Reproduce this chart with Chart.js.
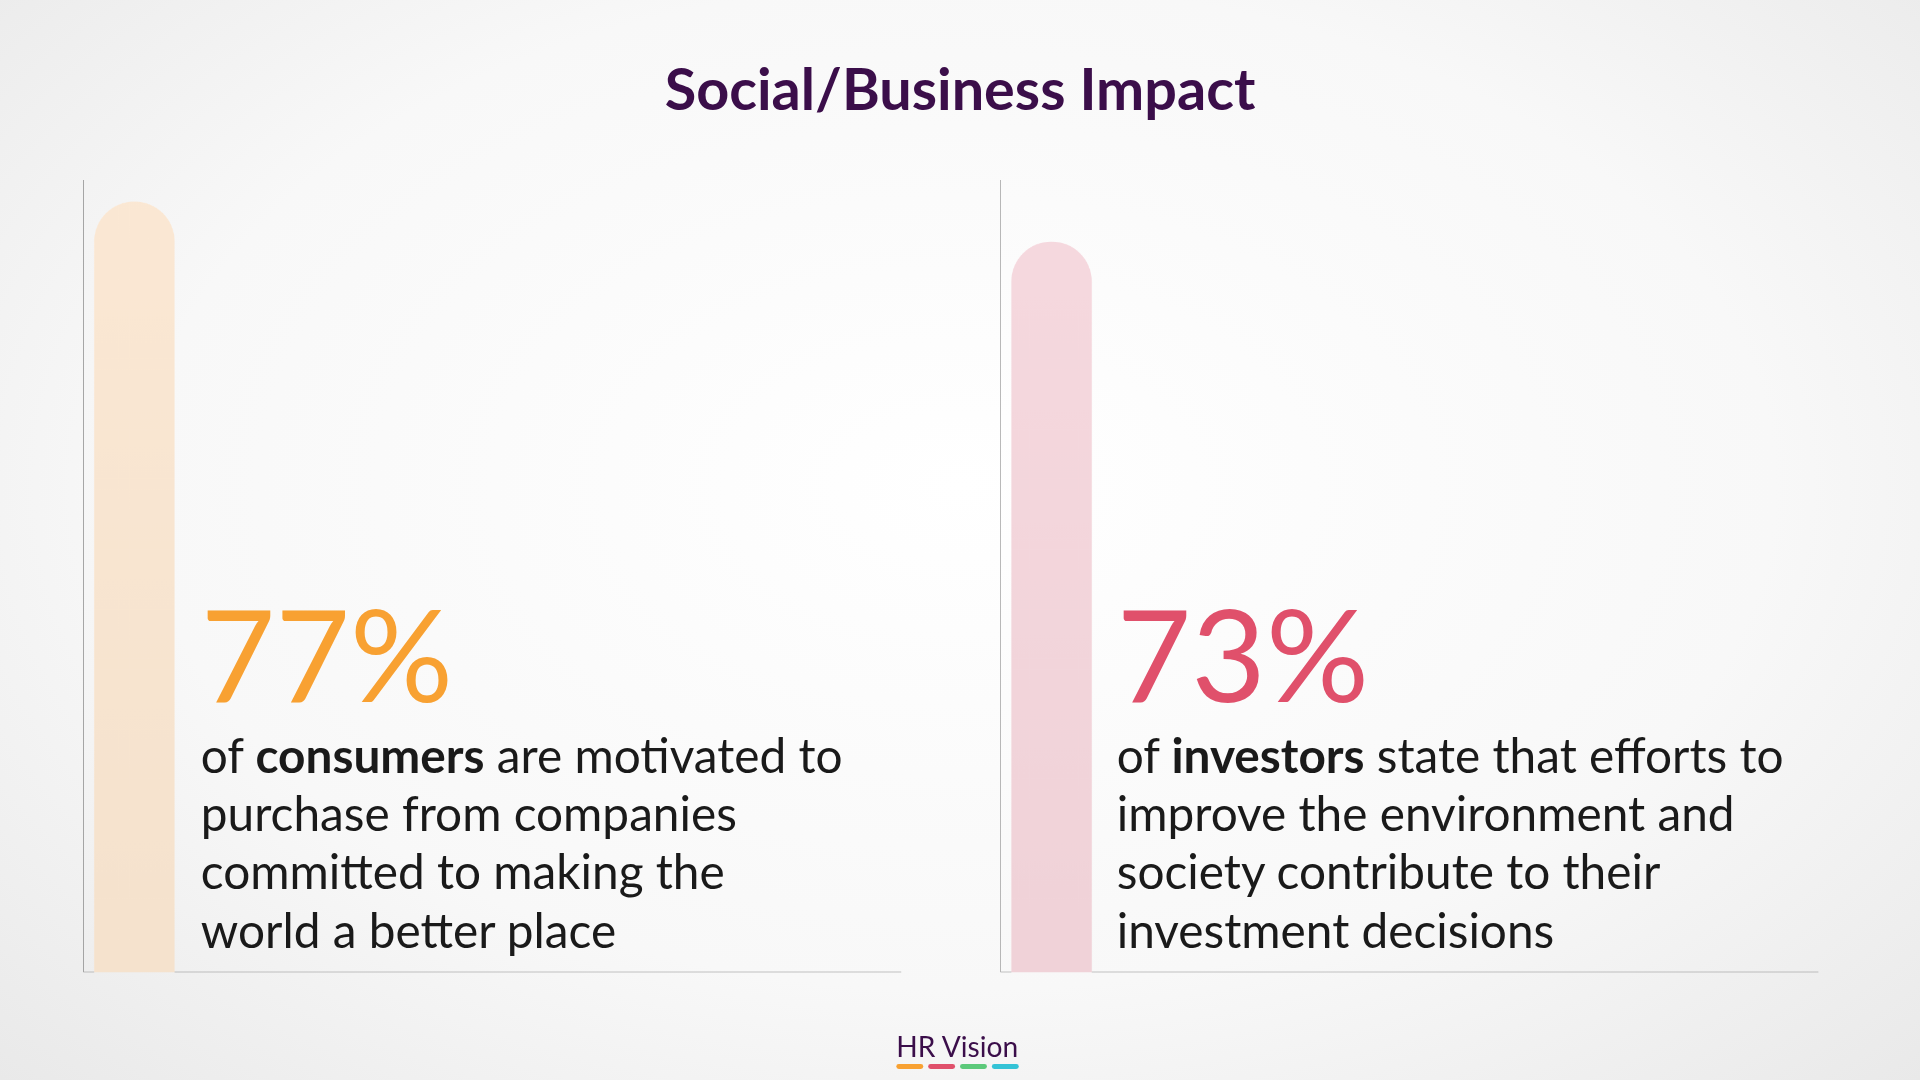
<!DOCTYPE html>
<html>
<head>
<meta charset="utf-8">
<script src="https://cdn.jsdelivr.net/npm/chart.js@4"></script>
<style>
html,body{margin:0;padding:0;width:1920px;height:1080px;overflow:hidden}
body{background:radial-gradient(ellipse at 50% 45%,#ffffff 0%,#f8f8f8 60%,#e9e9e9 100%);font-family:Lato,"Noto Sans",sans-serif}
#stage{position:absolute;left:0;top:0;width:1568px;height:882px;transform:scale(1.22449);transform-origin:0 0}
h1{position:absolute;left:0;right:0;top:44px;margin:0;text-align:center;font-size:47px;font-weight:700;color:#3b0e4a}
.box{position:absolute;top:147px;width:668px;height:647px}
.big{position:absolute;top:480px;font-size:105px;line-height:1;font-weight:400}
.txt{position:absolute;top:593px;font-size:39px;line-height:47.5px;color:#1a1a1a;white-space:nowrap}
.logo{position:absolute;left:732px;top:840px;font-size:23px;color:#3b0e4a}
.dash{display:flex;gap:4px;margin-top:1px}
.dash span{width:22px;height:4px;border-radius:2px}
</style>
</head>
<body>
<div id="stage">
<h1>Social/Business Impact</h1>
<div class="box" style="left:68px"><canvas id="c1"></canvas></div>
<div class="box" style="left:817px"><canvas id="c2"></canvas></div>
<div class="big" style="left:164px;color:#f8a132">77%</div>
<div class="txt" style="left:164px">of <b>consumers</b> are motivated to<br>purchase from companies<br>committed to making the<br>world a better place</div>
<div class="big" style="left:912px;color:#e0506b">73%</div>
<div class="txt" style="left:912px">of <b>investors</b> state that efforts to<br>improve the environment and<br>society contribute to their<br>investment decisions</div>
<div class="logo">HR Vision<div class="dash"><span style="background:#f8a132"></span><span style="background:#e0506b"></span><span style="background:#5cc97a"></span><span style="background:#34c3d6"></span></div></div>
</div>
<script>
// data
var groups = ['consumers', 'investors'];
var values = [77, 73];
var topColors = ['#fbe8d4', '#f6d9df'];
var bottomColors = ['#f5e2cd', '#f0d2d8'];
var slots = 8;

function makeChart(id, i) {
  var ctx = document.getElementById(id).getContext('2d');
  var labels = [groups[i]];
  var data = [values[i]];
  for (var k = 1; k < slots; k++) { labels.push(''); data.push(null); }
  return new Chart(ctx, {
    type: 'bar',
    data: {
      labels: labels,
      datasets: [{
        data: data,
        backgroundColor: function (c) {
          var a = c.chart.chartArea;
          if (!a) return topColors[i];
          var g = c.chart.ctx.createLinearGradient(0, a.top, 0, a.bottom);
          g.addColorStop(0, topColors[i]);
          g.addColorStop(1, bottomColors[i]);
          return g;
        },
        barThickness: 65,
        borderRadius: {topLeft: 33, topRight: 33},
        borderSkipped: 'bottom'
      }]
    },
    options: {
      responsive: true,
      maintainAspectRatio: false,
      devicePixelRatio: 2,
      animation: false,
      layout: {padding: 0},
      plugins: {legend: {display: false}, tooltip: {enabled: false}},
      scales: {
        x: {ticks: {display: false}, grid: {display: false, drawTicks: false}, border: {color: '#8a8a8a', width: 1}},
        y: {min: 0, max: 79.2, ticks: {display: false}, grid: {display: false, drawTicks: false}, border: {color: '#8a8a8a', width: 1}}
      }
    }
  });
}
makeChart('c1', 0);
makeChart('c2', 1);
</script>
</body>
</html>
